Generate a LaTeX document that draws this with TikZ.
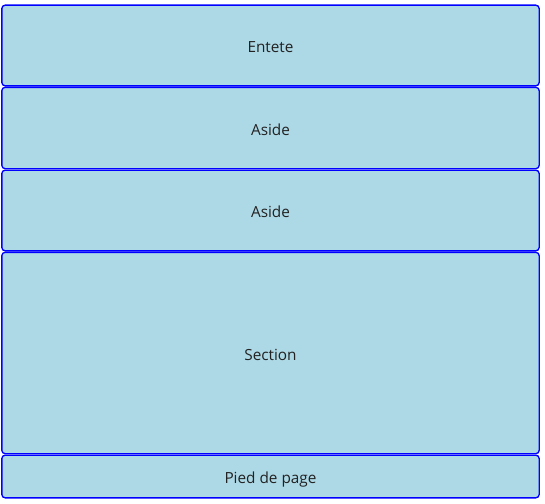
\documentclass[tikz,border=0pt]{standalone}
\usepackage{fontspec}
\setmainfont{Open Sans}
\definecolor{boxfill}{RGB}{173,216,230}
\definecolor{boxline}{RGB}{0,0,255}
\definecolor{boxtext}{RGB}{34,34,34}

\begin{document}
\begin{tikzpicture}[x=0.75pt, y=-0.75pt,
        zone/.style={draw=boxline, fill=boxfill, line width=1pt, rounded corners=2.5pt,
            minimum width=403pt, inner sep=0pt, outer sep=0pt, text=boxtext,
            text height=11.2pt, text depth=0pt,
            font=\fontsize{11.5pt}{13pt}\selectfont}]
        \useasboundingbox (0,0) rectangle (545,503);

        % Draw zones
        \node[zone, minimum height=60.5pt] (entete) at (270.5, 45.5) {Entete};
        \node[zone, minimum height=61pt] (aside1) at (270.5, 128) {Aside};
        \node[zone, minimum height=60.5pt] (aside2) at (270.5, 210.5) {Aside};
        \node[zone, minimum height=151pt] (section) at (270.5, 353) {Section};
        \node[zone, minimum height=32pt] (pied) at (270.5, 476.5) {Pied de page};
    \end{tikzpicture}
\end{document}
